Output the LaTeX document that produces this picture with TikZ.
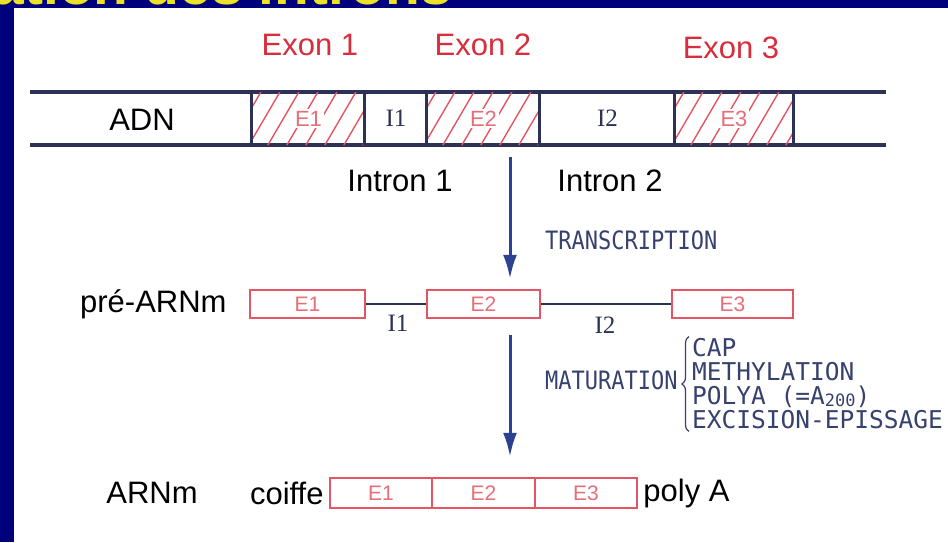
\documentclass[tikz,border=0pt]{standalone}
\usepackage{fontspec}
\setmainfont{Liberation Sans}
\setmonofont{DejaVu Sans Mono}
\newfontfamily\romfont{Liberation Serif}
\usetikzlibrary{positioning,arrows.meta,decorations.pathreplacing}

\definecolor{slideblue}{RGB}{0,0,125}
\definecolor{titleyellow}{RGB}{235,225,40}
\definecolor{dnaline}{RGB}{45,50,85}
\definecolor{exonred}{RGB}{215,45,60}
\definecolor{boxred}{RGB}{228,85,100}
\definecolor{labred}{RGB}{230,110,120}
\definecolor{arrowblue}{RGB}{45,65,145}
\definecolor{monoblue}{RGB}{55,65,110}

\tikzset{
  lab/.style={font=\fontsize{31}{36}\selectfont, text=black, inner sep=0pt},
  exlab/.style={lab, text=exonred},
  seg/.style={minimum height=53pt, inner sep=0pt},
  hatch/.style={draw=boxred, line width=1.4pt},
  dna/.style={draw=dnaline, line width=3.5pt},
  sepline/.style={draw=dnaline, line width=3pt},
  elab/.style={font=\fontsize{22}{24}\selectfont, text=labred, inner sep=2pt},
  ilab/.style={font=\romfont\fontsize{25}{27}\selectfont, text=dnaline, inner sep=0pt},
  exbox/.style={draw=boxred, line width=2.5pt, minimum height=28pt, inner sep=0pt,
    font=\fontsize{21}{23}\selectfont, text=labred},
  intr/.style={draw=dnaline, line width=2.5pt},
  proc/.style={font=\ttfamily\fontsize{22}{24}\selectfont, text=monoblue, inner sep=0pt, anchor=west},
  flow/.style={draw=arrowblue, line width=3pt, -{Latex[length=24pt,width=14pt]}},
  curly/.style={draw=monoblue, line width=1.2pt, decorate, decoration={brace, amplitude=7pt}},
  title/.style={font=\bfseries\fontsize{57}{60}\selectfont, inner sep=0pt, anchor=base east},
}

\begin{document}
\begin{tikzpicture}[x=1pt,y=-1pt]
  \fill[slideblue] (0,0) rectangle (948,542);
  \fill[white] (14,8) rectangle (948,542);
  \useasboundingbox (0,0) rectangle (948,542);

  % title, cut by the panel
  \begin{scope}
    \clip (0,0) rectangle (948,8);
    \node[title, text=titleyellow] (titletext) at (452,4) {ation des introns};
  \end{scope}

  % ADN
  \draw[dna] (30,92) -- (886,92);
  \draw[dna] (30,145) -- (886,145);
  \node[seg, minimum width=113pt] (dE1) at (308.5,118.5) {};
  \node[seg, minimum width=62pt] (dI1) at (396,118.5) {};
  \node[seg, minimum width=113pt] (dE2) at (483.5,118.5) {};
  \node[seg, minimum width=135pt] (dI2) at (607.5,118.5) {};
  \node[seg, minimum width=118pt] (dE3) at (734,118.5) {};
  \foreach \s in {dE1,dE2,dE3}{
    \begin{scope}
      \clip (\s.south west) rectangle (\s.north east);
      \foreach \k in {0,...,7}
        \draw[hatch] ([xshift=\k*19pt-22pt]\s.south west) -- ++(31,-53);
    \end{scope}
  }
  \foreach \s in {dE1,dI1,dE2,dI2,dE3}
    \draw[sepline] (\s.north west) -- (\s.south west);
  \draw[sepline] (dE3.north east) -- (dE3.south east);
  \node[elab, fill=white] (lE1) at (dE1) {E1};
  \node[ilab] (lI1) at (dI1) {I1};
  \node[elab, fill=white] (lE2) at (dE2) {E2};
  \node[ilab] (lI2) at (dI2) {I2};
  \node[elab, fill=white] (lE3) at (dE3) {E3};
  \node[lab] (adn) at (142,120) {ADN};
  \node[exlab] (ex1) at (310,45) {Exon 1};
  \node[exlab] (ex2) at (483,45) {Exon 2};
  \node[exlab] (ex3) at (731,48) {Exon 3};
  \node[lab] (in1) at (400,181) {Intron 1};
  \node[lab] (in2) at (610,181) {Intron 2};

  % pre-ARNm
  \node[exbox, minimum width=115pt] (pE1) at (307.5,304) {E1};
  \node[exbox, minimum width=113pt] (pE2) at (483.5,304) {E2};
  \node[exbox, minimum width=121pt] (pE3) at (732.5,304) {E3};
  \draw[intr] (pE1.east) -- (pE2.west);
  \draw[intr] (pE2.east) -- (pE3.west);
  \node[ilab] (pI1) at (398,323) {I1};
  \node[ilab] (pI2) at (605,325) {I2};
  \node[lab, left=22pt of pE1] (pre) {pré-ARNm};

  % transcription
  \coordinate (t1) at (510,157);
  \draw[flow, shorten >=10pt] (t1) -- (t1 |- pE2.north);
  \node[proc] (transc) at (545,240) {\scalebox{1}[1.15]{TRANSCRIPTION}};

  % ARNm
  \node[exbox, minimum width=102pt, minimum height=30pt] (mE1) at (381,493) {E1};
  \node[exbox, minimum width=103pt, minimum height=30pt] (mE2) at (483.5,493) {E2};
  \node[exbox, minimum width=102pt, minimum height=30pt] (mE3) at (586,493) {E3};
  \node[lab, left=5pt of mE1] (coiffe) {coiffe};
  \node[lab, right=5pt of mE3] (polya) {poly A};
  \node[lab, left=52pt of coiffe] (arnm) {ARNm};

  % maturation
  \coordinate (t2) at (510,335);
  \draw[flow, shorten >=20pt] (t2) -- (t2 |- mE2.north);
  \node[proc] (matur) at (545,380) {\scalebox{1}[1.15]{MATURATION}};
  \node[proc, font=\ttfamily\fontsize{24.5}{24}\selectfont, align=left] (steps) at (692,384)
    {CAP\\METHYLATION\\POLYA (=A\raisebox{-2pt}{\fontsize{17}{17}\selectfont 200})\\EXCISION-EPISSAGE};
  \draw[curly] ([xshift=-3pt,yshift=-2pt]steps.south west) -- ([xshift=-3pt,yshift=2pt]steps.north west);
\end{tikzpicture}
\end{document}
